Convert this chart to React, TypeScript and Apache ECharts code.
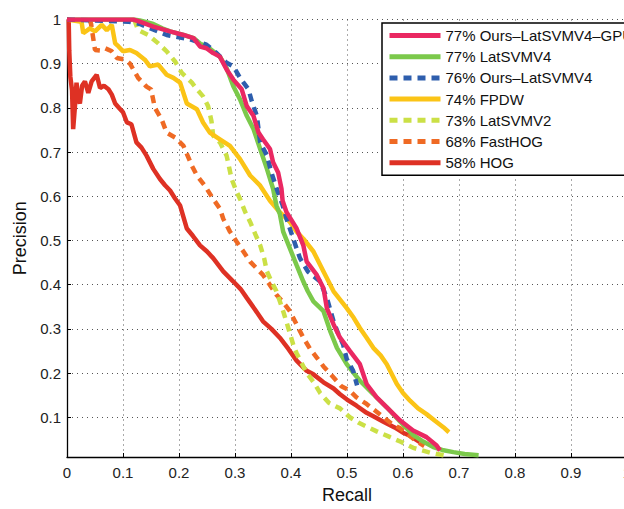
import React, { useEffect, useRef } from "react";
import * as echarts from "echarts";

// ---- data (recall, precision) ----
const hogData: number[][] = [
  [0, 1], [0.003, 1.0], [0.004, 0.93], [0.006, 0.87], [0.009, 0.84], [0.011, 0.752], [0.014, 0.8],
  [0.017, 0.857], [0.02, 0.82], [0.023, 0.81], [0.027, 0.85], [0.032, 0.86], [0.038, 0.834],
  [0.044, 0.86], [0.053, 0.875], [0.059, 0.845], [0.066, 0.85], [0.074, 0.842], [0.08, 0.83],
  [0.086, 0.81], [0.093, 0.8], [0.1, 0.79], [0.107, 0.767], [0.115, 0.763], [0.124, 0.722],
  [0.133, 0.71], [0.142, 0.692], [0.154, 0.662], [0.166, 0.639], [0.175, 0.625], [0.184, 0.613],
  [0.193, 0.595], [0.202, 0.579], [0.214, 0.527], [0.225, 0.51], [0.2375, 0.489], [0.25, 0.475],
  [0.261, 0.46], [0.279, 0.43], [0.297, 0.407], [0.31, 0.39], [0.321, 0.37], [0.335, 0.345],
  [0.35, 0.317], [0.365, 0.3], [0.38, 0.28], [0.395, 0.255], [0.41, 0.228], [0.428, 0.205],
  [0.44, 0.197], [0.458, 0.179], [0.476, 0.165], [0.4875, 0.152], [0.5, 0.14], [0.517, 0.126],
  [0.535, 0.11], [0.547, 0.102], [0.565, 0.09], [0.585, 0.077], [0.6, 0.065], [0.6125, 0.058],
  [0.63, 0.044],
];

const fastHogData: number[][] = [
  [0.04, 1.0], [0.043, 0.99], [0.05, 0.931], [0.059, 0.93], [0.068, 0.935], [0.08, 0.928],
  [0.089, 0.913], [0.104, 0.909], [0.1125, 0.9], [0.127, 0.868], [0.142, 0.848], [0.15, 0.842],
  [0.157, 0.8], [0.169, 0.774], [0.178, 0.744], [0.193, 0.733], [0.208, 0.714], [0.223, 0.669],
  [0.232, 0.647], [0.246, 0.624], [0.261, 0.594], [0.273, 0.572], [0.279, 0.549], [0.291, 0.52],
  [0.303, 0.497], [0.315, 0.475], [0.327, 0.452], [0.35, 0.422], [0.362, 0.4], [0.374, 0.377],
  [0.386, 0.36], [0.398, 0.34], [0.41, 0.31], [0.422, 0.28], [0.434, 0.255], [0.446, 0.235],
  [0.458, 0.215], [0.476, 0.19], [0.49, 0.17], [0.505, 0.16], [0.517, 0.145], [0.535, 0.13],
  [0.55, 0.115], [0.565, 0.1], [0.58, 0.085], [0.595, 0.075], [0.61, 0.06], [0.625, 0.045],
  [0.638, 0.035],
];

const latSvmV2Data: number[][] = [
  [0.12, 1.0], [0.127, 0.976], [0.145, 0.965], [0.163, 0.946], [0.178, 0.928], [0.193, 0.905],
  [0.205, 0.879], [0.223, 0.857], [0.232, 0.842], [0.243, 0.826], [0.252, 0.804], [0.258, 0.77],
  [0.261, 0.737], [0.273, 0.722], [0.285, 0.692], [0.294, 0.639], [0.303, 0.61], [0.309, 0.594],
  [0.318, 0.565], [0.327, 0.542], [0.336, 0.515], [0.345, 0.489], [0.352, 0.46], [0.357, 0.43],
  [0.366, 0.405], [0.374, 0.385], [0.386, 0.34], [0.398, 0.29], [0.405, 0.26], [0.41, 0.245],
  [0.428, 0.2], [0.44, 0.18], [0.452, 0.155], [0.468, 0.132], [0.4875, 0.12], [0.505, 0.1],
  [0.52, 0.088], [0.553, 0.068], [0.575, 0.056], [0.595, 0.045], [0.62, 0.03], [0.648, 0.02],
  [0.68, 0.012],
];

const fpdwData: number[][] = [
  [0, 1], [0.026, 0.995], [0.029, 0.969], [0.041, 0.98], [0.05, 0.973], [0.062, 0.988],
  [0.071, 0.976], [0.08, 0.988], [0.086, 0.946], [0.092, 0.939], [0.1, 0.928], [0.1125, 0.931],
  [0.124, 0.924], [0.139, 0.909], [0.148, 0.894], [0.163, 0.898], [0.178, 0.875], [0.19, 0.868],
  [0.202, 0.857], [0.214, 0.81], [0.232, 0.797], [0.243, 0.767], [0.255, 0.744], [0.273, 0.729],
  [0.291, 0.714], [0.309, 0.684], [0.327, 0.647], [0.345, 0.624], [0.3625, 0.59], [0.38, 0.564],
  [0.398, 0.542], [0.41, 0.52], [0.422, 0.504], [0.44, 0.475], [0.458, 0.43], [0.476, 0.385],
  [0.4995, 0.347], [0.512, 0.325], [0.523, 0.302], [0.535, 0.28], [0.547, 0.257], [0.56, 0.24],
  [0.571, 0.22], [0.589, 0.175], [0.6, 0.155], [0.6125, 0.1375], [0.627, 0.12], [0.642, 0.107],
  [0.657, 0.092], [0.672, 0.0775], [0.682, 0.066],
];

const latSvmV4Data: number[][] = [
  [0, 1], [0.12, 1.0], [0.13, 0.998], [0.154, 0.99], [0.17, 0.98], [0.184, 0.973], [0.208, 0.965],
  [0.226, 0.958], [0.238, 0.945], [0.249, 0.94], [0.261, 0.928], [0.273, 0.916], [0.285, 0.89],
  [0.297, 0.849], [0.309, 0.819], [0.321, 0.782], [0.333, 0.752], [0.345, 0.707], [0.357, 0.662],
  [0.368, 0.617], [0.374, 0.579], [0.38, 0.56], [0.386, 0.52], [0.398, 0.482], [0.41, 0.444],
  [0.422, 0.407], [0.43, 0.385], [0.44, 0.362], [0.458, 0.34], [0.47, 0.295], [0.482, 0.257],
  [0.4995, 0.22], [0.512, 0.2], [0.523, 0.1825], [0.547, 0.152], [0.571, 0.1225], [0.595, 0.09],
  [0.618, 0.06], [0.636, 0.045], [0.654, 0.0325], [0.67, 0.026], [0.69, 0.021], [0.71, 0.017],
  [0.735, 0.014],
];

const oursLatSvmV4Data: number[][] = [
  [0, 1], [0.11, 0.995], [0.13, 0.99], [0.178, 0.965], [0.22, 0.955], [0.249, 0.943],
  [0.267, 0.924], [0.285, 0.902], [0.297, 0.894], [0.309, 0.868], [0.324, 0.842], [0.33, 0.815],
  [0.339, 0.782], [0.345, 0.722], [0.357, 0.692], [0.365, 0.654], [0.375, 0.615], [0.385, 0.58],
  [0.392, 0.549], [0.404, 0.504], [0.416, 0.46], [0.43, 0.43], [0.452, 0.407], [0.464, 0.37],
  [0.476, 0.317], [0.484, 0.29], [0.493, 0.265], [0.4995, 0.232], [0.511, 0.205], [0.518, 0.172],
];

const gpuData: number[][] = [
  [0, 1], [0.118, 1.0], [0.13, 0.995], [0.154, 0.984], [0.184, 0.973], [0.208, 0.965],
  [0.226, 0.958], [0.2375, 0.939], [0.249, 0.935], [0.261, 0.924], [0.273, 0.916], [0.285, 0.887],
  [0.297, 0.864], [0.312, 0.842], [0.321, 0.804], [0.333, 0.782], [0.342, 0.744], [0.35, 0.729],
  [0.3625, 0.707], [0.368, 0.677], [0.377, 0.654], [0.383, 0.617], [0.385, 0.59], [0.392, 0.564],
  [0.41, 0.527], [0.422, 0.489], [0.428, 0.452], [0.446, 0.422], [0.458, 0.392], [0.464, 0.347],
  [0.476, 0.31], [0.4875, 0.28], [0.505, 0.25], [0.523, 0.22], [0.535, 0.175], [0.553, 0.145],
  [0.571, 0.1225], [0.595, 0.0925], [0.618, 0.07], [0.642, 0.055], [0.66, 0.036], [0.666, 0.025],
];

const legendNames = [
  "77% Ours–LatSVMV4–GPU",
  "77% LatSVMV4",
  "76% Ours–LatSVMV4",
  "74% FPDW",
  "73% LatSVMV2",
  "68% FastHOG",
  "58% HOG",
];

const yTicks = [0.1, 0.2, 0.3, 0.4, 0.5, 0.6, 0.7, 0.8, 0.9, 1];

const FONT = "'Liberation Sans', Arial, Helvetica, sans-serif";

export default function App() {
  const ref = useRef<HTMLDivElement>(null);

  useEffect(() => {
    if (!ref.current) return;
    const chart = echarts.init(ref.current, undefined, { renderer: "svg" });

    const mk = (name: string, data: number[][], color: string, dashed: boolean) => ({
      name,
      type: "line",
      data,
      showSymbol: false,
      symbol: "none",
      smooth: false,
      lineStyle: { color, width: 4.5, type: dashed ? [8, 6] : "solid", cap: "butt" },
      itemStyle: { color },
      emphasis: { disabled: true },
    });

    const gridLine = { show: true, lineStyle: { color: "#555", width: 1, type: [1, 4] } };

    chart.setOption({
      animation: false,
      backgroundColor: "#fff",
      textStyle: { fontFamily: FONT },
      grid: { left: 67, top: 19.5, right: 13, bottom: 49, containLabel: false },
      xAxis: {
        type: "value",
        min: 0,
        max: 1,
        interval: 0.1,
        name: "Recall",
        nameLocation: "middle",
        nameGap: 29,
        nameTextStyle: { fontSize: 18, color: "#111", fontFamily: FONT },
        axisLine: { show: true, lineStyle: { color: "#000", width: 1.3 } },
        axisTick: { show: true, inside: true, length: 4, lineStyle: { color: "#000" } },
        axisLabel: { fontSize: 15, color: "#222", margin: 8, fontFamily: FONT, showMinLabel: true, showMaxLabel: true },
        splitLine: gridLine,
      },
      yAxis: {
        type: "value",
        min: 0.01,
        max: 1,
        name: "Precision",
        nameLocation: "middle",
        nameGap: 37,
        nameTextStyle: { fontSize: 18, color: "#111", fontFamily: FONT },
        axisLine: { show: true, onZero: false, lineStyle: { color: "#000", width: 1.3 } },
        axisTick: { show: true, inside: true, length: 4, lineStyle: { color: "#000" }, customValues: yTicks },
        axisLabel: { fontSize: 15, color: "#222", margin: 6, fontFamily: FONT, customValues: yTicks },
        splitLine: gridLine,
      },
      legend: {
        orient: "vertical",
        left: 382,
        top: 23,
        data: legendNames,
        itemWidth: 51,
        itemHeight: 14,
        itemGap: 6.2,
        padding: [5, 10, 5, 5],
        backgroundColor: "#fff",
        borderColor: "#000",
        borderWidth: 1.5,
        borderRadius: 0,
        selectedMode: false,
        textStyle: { fontSize: 15, color: "#111", fontFamily: FONT },
        lineStyle: { width: 5 },
        itemStyle: { opacity: 0 },
      },
      series: [
        mk("58% HOG", hogData, "#de3124", false),
        mk("68% FastHOG", fastHogData, "#ef6a24", true),
        mk("73% LatSVMV2", latSvmV2Data, "#cbe046", true),
        mk("74% FPDW", fpdwData, "#fbc416", false),
        mk("77% LatSVMV4", latSvmV4Data, "#7bc94b", false),
        mk("76% Ours–LatSVMV4", oursLatSvmV4Data, "#2e5ead", true),
        mk("77% Ours–LatSVMV4–GPU", gpuData, "#ea2862", false),
      ],
    });

    return () => chart.dispose();
  }, []);

  return (
    <div
      ref={ref}
      style={{ position: "fixed", left: 0, top: 0, width: 640, height: 509, background: "#fff" }}
    />
  );
}
